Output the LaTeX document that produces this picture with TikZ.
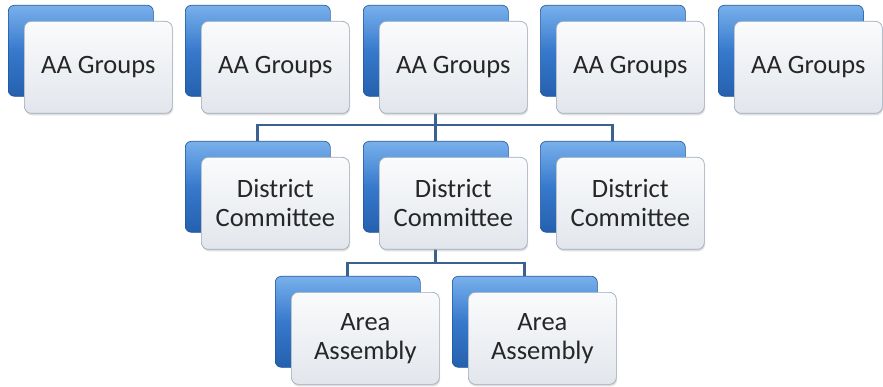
\documentclass[tikz,border=0pt]{standalone}
\usepackage{fontspec}
\setmainfont{Carlito}
\usetikzlibrary{shadows,backgrounds}
\definecolor{cardblue}{HTML}{3779CC}
\definecolor{cardbluedark}{HTML}{2560AE}
\definecolor{cardbluelight}{HTML}{78B0EC}
\definecolor{cardedge}{HTML}{1E5499}
\definecolor{paneltop}{HTML}{FAFBFC}
\definecolor{panelbottom}{HTML}{E2E6EC}
\definecolor{paneledge}{HTML}{9EABBC}
\definecolor{linkcolor}{HTML}{3A6190}
\begin{document}
\begin{tikzpicture}[x=1pt,y=-1pt,
  backcard/.style={rectangle, rounded corners=6pt, anchor=north west,
    minimum width=145pt, minimum height=91pt, inner sep=0pt,
    top color=cardbluelight, bottom color=cardbluedark, middle color=cardblue,
    draw=cardedge, line width=0.6pt},
  frontcard/.style={rectangle, rounded corners=7pt, anchor=north west,
    minimum width=148pt, minimum height=92pt, inner sep=2pt,
    top color=paneltop, bottom color=panelbottom,
    draw=paneledge, line width=0.7pt,
    drop shadow={shadow xshift=0.8pt, shadow yshift=-2pt, opacity=0.25},
    align=center, text=black!85, font=\fontsize{26.5}{29}\selectfont},
  link/.style={draw=linkcolor, line width=2.8pt}]
\useasboundingbox (0,0) rectangle (883,387);

% top row: AA groups
\foreach \i/\x in {1/8, 2/185, 3/363, 4/540, 5/718} {
  \node[backcard] (b\i) at (\x,5) {};
  \node[frontcard] (g\i) at (\x+16,21) {AA Groups};
}

% middle row: district committees
\foreach \i/\x in {1/185, 2/363, 3/540} {
  \node[backcard] (d\i) at (\x,141) {};
  \node[frontcard] (dc\i) at (\x+16,157) {District\\Committee};
}

% bottom row: area assemblies
\foreach \i/\x in {1/275, 2/452} {
  \node[backcard] (a\i) at (\x,276) {};
  \node[frontcard] (aa\i) at (\x+16,292) {Area\\Assembly};
}

% connectors, kept behind the cards
\coordinate (j1) at (b3.center |- 0,125);
\coordinate (j2) at (d2.center |- 0,263);
\begin{scope}[on background layer]
  \draw[link] (b3.center) -- (j1);
  \draw[link] (d1.north) |- (j1) -| (d3.north);
  \draw[link] (j1) -- (d2.north);
  \draw[link] (d2.center) -- (j2);
  \draw[link] (a1.north) |- (j2) -| (a2.north);
\end{scope}
\end{tikzpicture}
\end{document}
